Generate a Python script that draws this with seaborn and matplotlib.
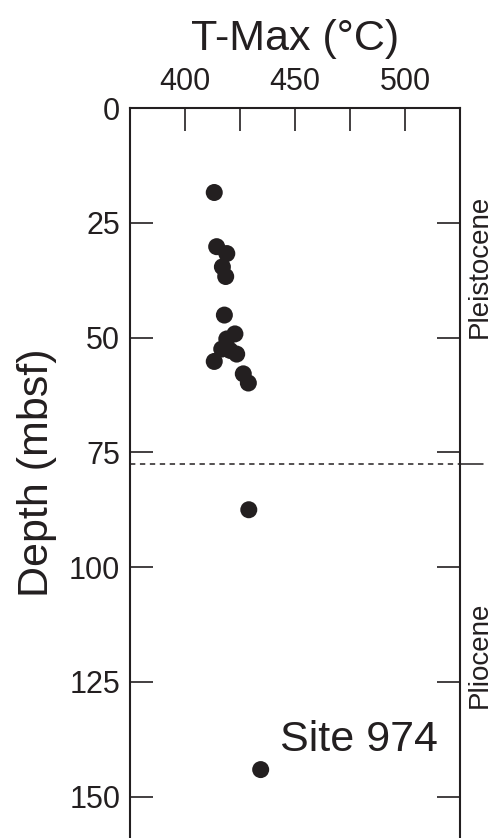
import matplotlib
matplotlib.use("Agg")
import matplotlib.pyplot as plt
import matplotlib.transforms as mtransforms
import pandas as pd
import seaborn as sns

# T-Max vs depth, Site 974
tmax = [413.3, 414.4, 419.0, 417.0, 418.5, 417.9, 422.7, 419.0, 416.7,
        423.5, 420.5, 413.3, 426.5, 428.8, 429.0, 434.4]
depth = [18.4, 30.2, 31.7, 34.6, 36.7, 45.1, 49.2, 50.3, 52.5,
         53.6, 52.8, 55.2, 57.9, 59.9, 87.5, 144.1]

x_ticks = [400, 425, 450, 475, 500]
x_ticklabels = ["400", "", "450", "", "500"]
y_ticks = [0, 25, 50, 75, 100, 125, 150]
y_ticklabels = ["0", "25", "50", "75", "100", "125", "150"]

boundary_depth = 77.5
epochs = ["Pleistocene", "Pliocene"]
epoch_mid = [34.4, 119.0]

df = pd.DataFrame({"tmax": tmax, "depth": depth})

sns.set_style("ticks")
plt.rcParams["font.family"] = ["Liberation Sans", "DejaVu Sans"]

ink = "#231f20"
fig = plt.figure(figsize=(4.95, 8.38), dpi=100)
ax = fig.add_axes([0.2626, 0.0, 0.6667, 0.8711])

sns.scatterplot(data=df, x="tmax", y="depth", ax=ax, s=150, color=ink,
                edgecolor="none", clip_on=False, zorder=3)

ax.set_xlim(375, 525)
ax.set_ylim(159, 0)

ax.xaxis.tick_top()
ax.xaxis.set_label_position("top")
ax.set_xticks(x_ticks)
ax.set_xticklabels(x_ticklabels)
ax.set_yticks(y_ticks)
ax.set_yticklabels(y_ticklabels)

ax.tick_params(axis="x", direction="in", length=16.5, width=1.2, colors=ink,
               labelsize=22, pad=8, top=True, bottom=False)
ax.tick_params(axis="y", direction="in", length=16.5, width=1.2, colors=ink,
               labelsize=22, pad=7, left=True, right=True)
for side in ["top", "left", "right"]:
    ax.spines[side].set_linewidth(1.5)
    ax.spines[side].set_color(ink)
ax.spines["bottom"].set_visible(False)

ax.set_xlabel("T-Max (°C)", fontsize=31, color=ink, labelpad=12)
ax.set_ylabel("Depth (mbsf)", fontsize=31, color=ink, labelpad=9)

# epoch boundary
ax.axhline(boundary_depth, color=ink, linestyle=(0, (3.5, 3)), linewidth=1.1)
trans = mtransforms.blended_transform_factory(ax.transAxes, ax.transData)
ax.plot([1.0, 1.07], [boundary_depth, boundary_depth], color=ink,
        linewidth=1.1, transform=trans, clip_on=False)

for name, mid in zip(epochs, epoch_mid):
    ax.text(1.06, mid, name, transform=trans, rotation=90, fontsize=20,
            color=ink, ha="center", va="center")

ax.text(443, 140, "Site 974", fontsize=31, color=ink, ha="left",
        va="baseline")

fig.savefig("out.png", dpi=100)
